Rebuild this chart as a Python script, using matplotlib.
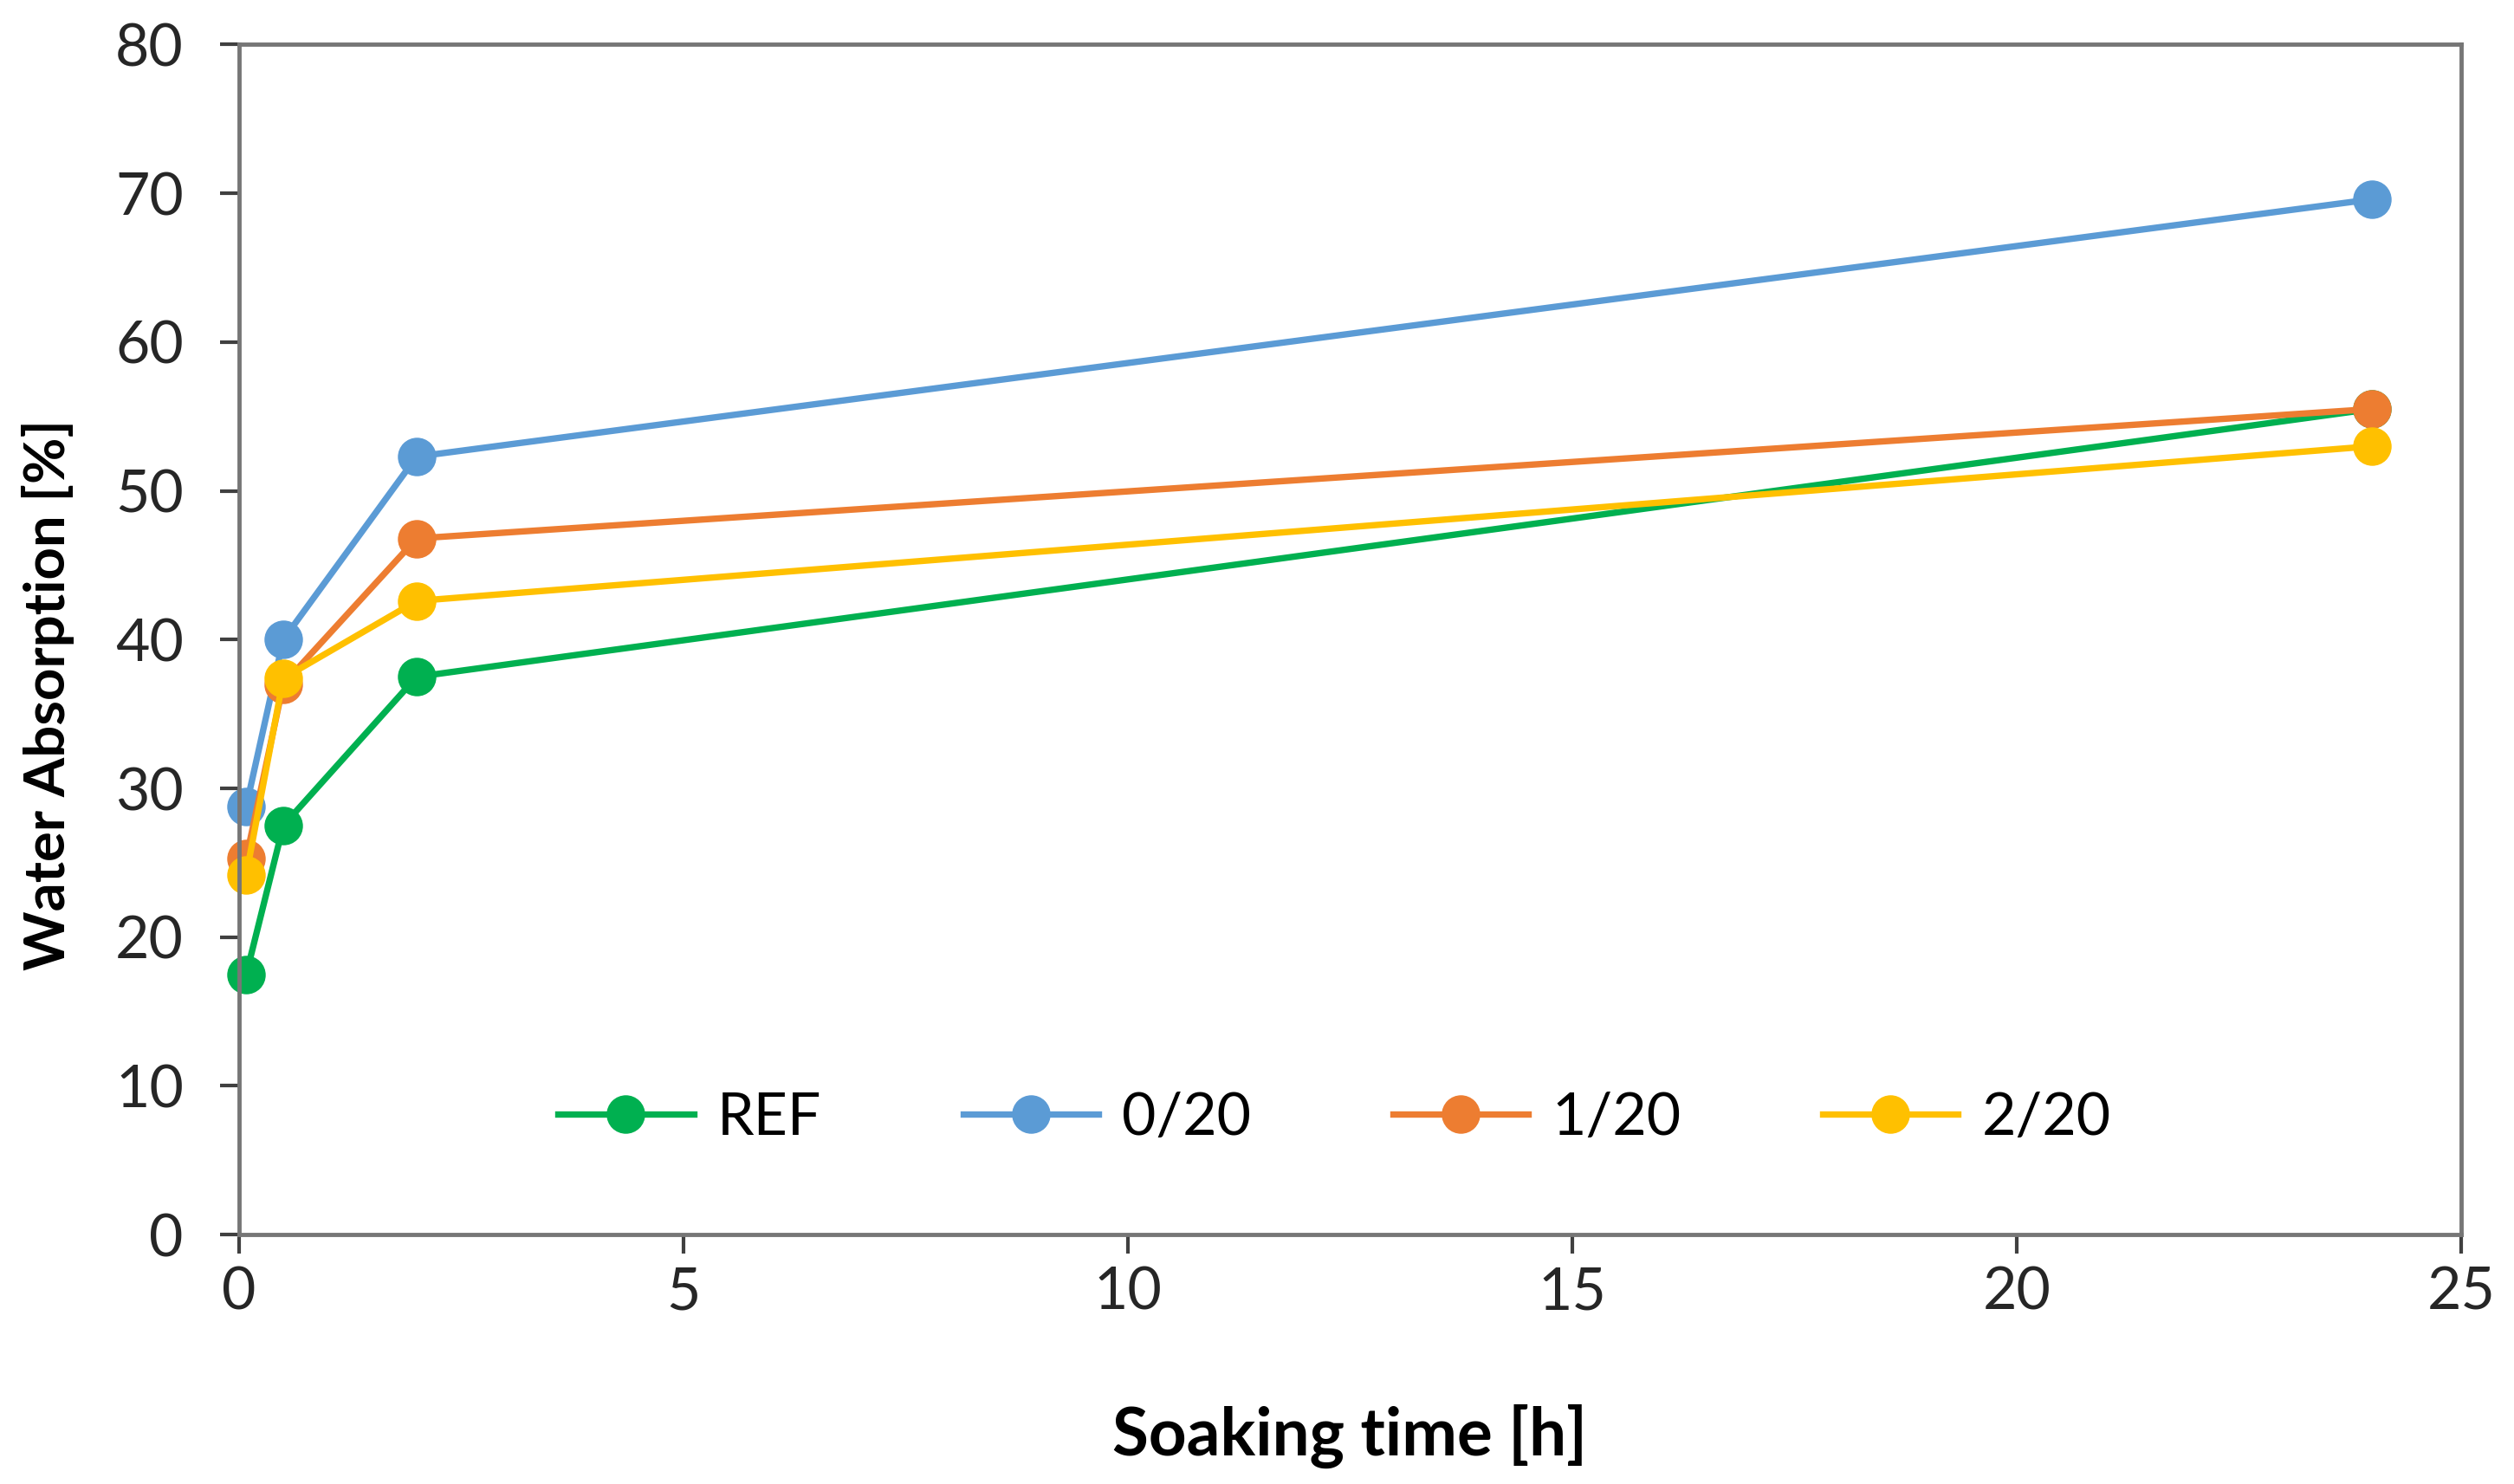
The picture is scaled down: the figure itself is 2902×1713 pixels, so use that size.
import matplotlib.pyplot as plt

plt.rcParams['font.family'] = ['Lato', 'DejaVu Sans']

time_h = [5 / 60, 0.5, 2, 24]
ref = [17.5, 27.5, 37.5, 55.5]
s0_20 = [28.8, 40.0, 52.3, 69.6]
s1_20 = [25.3, 37.0, 46.8, 55.5]
s2_20 = [24.2, 37.4, 42.6, 53.0]

labels = ['REF', '0/20', '1/20', '2/20']
colors = ['#00B050', '#5B9BD5', '#ED7D31', '#FFC000']
series = [ref, s0_20, s1_20, s2_20]

fig = plt.figure(figsize=(29.02, 17.13), dpi=100)
ax = fig.add_axes([0.095, 0.168, 0.884, 0.802])

for vals, lab, col in zip(series, labels, colors):
    ax.plot(time_h, vals, color=col, lw=5.3, marker='o', markersize=31,
            label=lab, clip_on=False)

ax.set_xlim(0, 25)
ax.set_ylim(0, 80)
ax.set_xticks(range(0, 26, 5))
ax.set_yticks(range(0, 81, 10))

for sp in ax.spines.values():
    sp.set_color('#767676')
    sp.set_linewidth(3.5)
ax.tick_params(direction='out', length=16, width=3, color='#404040',
               labelsize=49, labelcolor='#262626')
ax.tick_params(axis='y', pad=30)
ax.tick_params(axis='x', pad=10)

ax.set_xlabel('Soaking time [h]', fontsize=55, fontweight='bold', labelpad=70)
ax.set_ylabel('Water Absorption [%]', fontsize=47, fontweight='bold')
ax.yaxis.set_label_coords(-0.074, 0.4535)

ax.legend(loc='center', bbox_to_anchor=(0.493, 0.098), ncol=4, frameon=False,
          fontsize=49, handlelength=2.3, handletextpad=0.4, columnspacing=2.4)

fig.savefig('out.png', dpi=100)
